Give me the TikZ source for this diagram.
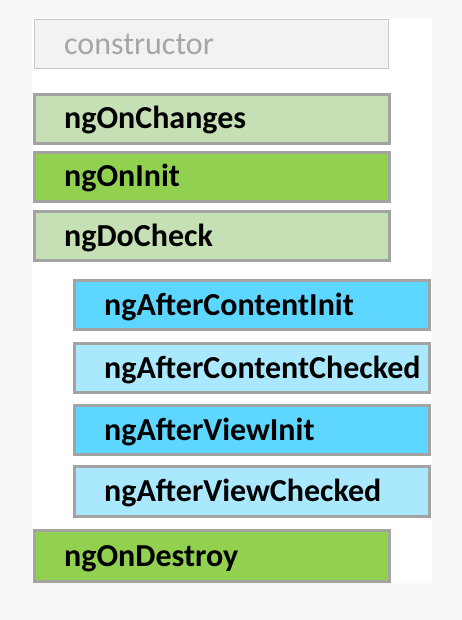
\documentclass[tikz,border=0pt]{standalone}
\usepackage{fontspec}
\setmainfont{Carlito}
\definecolor{bgc}{HTML}{F8F8F8}
\definecolor{lightgreen}{HTML}{C5E0B4}
\definecolor{midgreen}{HTML}{92D050}
\definecolor{deepblue}{HTML}{5DD7FF}
\definecolor{paleblue}{HTML}{A9E8FD}
\definecolor{edgegray}{HTML}{A3A3A3}
\begin{document}
\begin{tikzpicture}[x=1pt,y=-1pt,
  hook/.style={draw=edgegray,line width=3pt},
  lbl/.style={anchor=base west,font=\fontsize{32}{34}\selectfont\bfseries,text=black,inner sep=0pt}]
\useasboundingbox (0,0) rectangle (462,620);
\fill[bgc] (0,0) rectangle (462,620);
\fill[white] (32,18) rectangle (432,583);
% constructor
\draw[draw=black!22,fill=black!5,line width=1.5pt] (34.5,19.5) rectangle (388.5,68.5);
\node[anchor=base west,inner sep=0pt,font=\fontsize{32}{34}\selectfont,text=black!35] (ctor) at (64,55) {constructor};
% green group
\draw[hook,fill=lightgreen] (34.5,94.5) rectangle (389.5,143.5);
\node[lbl] (chg) at (64,129) {ngOnChanges};
\draw[hook,fill=midgreen] (34.5,152.5) rectangle (389.5,201.5);
\node[lbl] (init) at (64,187) {ngOnInit};
\draw[hook,fill=lightgreen] (34.5,211.5) rectangle (389.5,260.5);
\node[lbl] (chk) at (64,246) {ngDoCheck};
% blue group
\draw[hook,fill=deepblue] (74.5,280.5) rectangle (429.5,329.5);
\node[lbl] (aci) at (104,315) {ngAfterContentInit};
\draw[hook,fill=paleblue] (74.5,343.5) rectangle (429.5,392.5);
\node[lbl] (acc) at (104,378) {ngAfterContentChecked};
\draw[hook,fill=deepblue] (74.5,405.5) rectangle (429.5,454.5);
\node[lbl] (avi) at (104,440) {ngAfterViewInit};
\draw[hook,fill=paleblue] (74.5,466.5) rectangle (429.5,516.5);
\node[lbl] (avc) at (104,501) {ngAfterViewChecked};
% destroy
\draw[hook,fill=midgreen] (34.5,530.5) rectangle (389.5,581.5);
\node[lbl] (dst) at (64,566) {ngOnDestroy};
\end{tikzpicture}
\end{document}
